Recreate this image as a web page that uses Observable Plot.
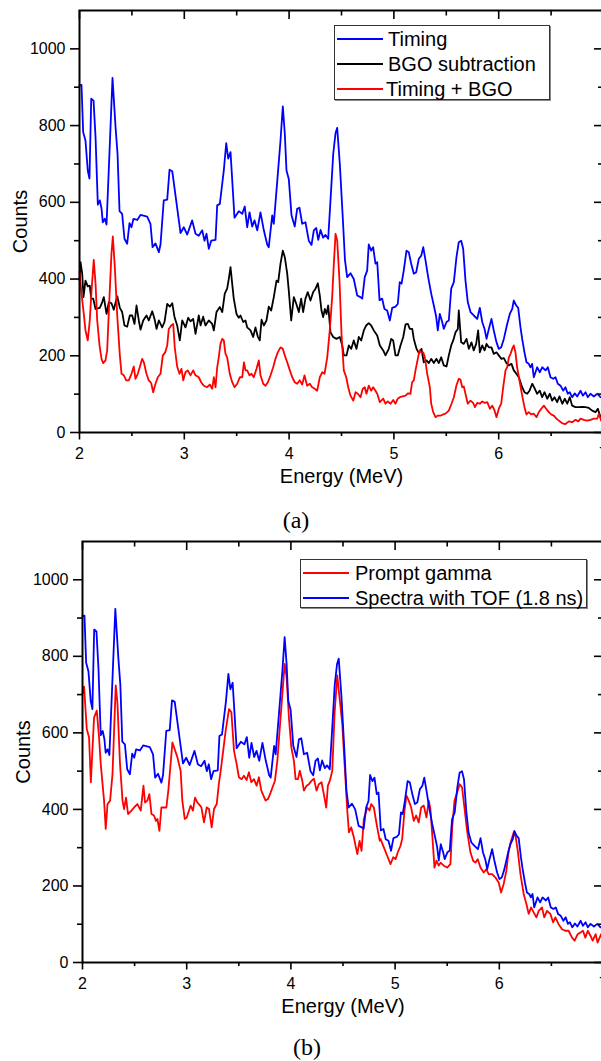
<!DOCTYPE html>
<html><head><meta charset="utf-8">
<script src="https://cdn.jsdelivr.net/npm/d3@7"></script>
<script src="https://cdn.jsdelivr.net/npm/@observablehq/plot@0.6"></script>
<style>
html,body{margin:0;padding:0;background:#fff;overflow:hidden;}
#wrap{position:relative;width:601px;height:1061px;overflow:hidden;font-family:"Liberation Sans",Arial,sans-serif;}
.panel{position:absolute;left:0;max-width:none !important;}
.legend{position:absolute;border:1px solid #333;box-shadow:1px 1px 0 #888;background:#fff;font-size:20px;color:#000;}
.legend .ln{position:absolute;height:0;border-top:2px solid;}
.legend .tx{position:absolute;line-height:20px;white-space:nowrap;}
.cap{position:absolute;font-family:"Liberation Serif","DejaVu Serif",serif;font-size:24px;transform:translate(-50%,-50%);}
</style></head>
<body><div id="wrap"></div>
<script>
// ---- data: [energy (MeV), counts] ----
const timing = [[2.000,905],[2.019,906],[2.035,783],[2.057,761],[2.079,683],[2.095,662],[2.112,870],[2.134,865],[2.153,770],[2.175,594],[2.194,605],[2.210,584],[2.222,548],[2.241,557],[2.258,542],[2.283,709],[2.315,924],[2.344,796],[2.363,726],[2.382,577],[2.407,570],[2.429,505],[2.455,492],[2.477,546],[2.496,535],[2.515,557],[2.551,554],[2.582,567],[2.646,563],[2.677,544],[2.697,483],[2.725,493],[2.757,470],[2.773,490],[2.804,605],[2.837,607],[2.859,685],[2.885,681],[2.916,618],[2.964,520],[2.995,535],[3.028,516],[3.075,553],[3.107,518],[3.138,513],[3.171,527],[3.193,500],[3.212,518],[3.234,479],[3.257,500],[3.298,502],[3.314,592],[3.339,596],[3.377,683],[3.400,754],[3.419,714],[3.441,731],[3.479,560],[3.520,577],[3.553,570],[3.577,589],[3.600,535],[3.622,574],[3.648,537],[3.670,553],[3.696,527],[3.727,574],[3.759,527],[3.791,490],[3.806,483],[3.839,566],[3.854,544],[3.886,652],[3.918,761],[3.940,850],[3.959,779],[3.975,683],[3.997,661],[4.023,566],[4.054,537],[4.077,583],[4.099,586],[4.125,544],[4.156,548],[4.188,500],[4.214,489],[4.236,527],[4.259,533],[4.278,502],[4.300,528],[4.325,508],[4.347,515],[4.373,505],[4.395,605],[4.421,726],[4.443,780],[4.459,794],[4.484,700],[4.512,561],[4.533,450],[4.554,405],[4.586,415],[4.617,400],[4.650,357],[4.681,353],[4.698,349],[4.722,405],[4.745,422],[4.760,490],[4.783,474],[4.802,483],[4.824,440],[4.841,444],[4.863,345],[4.888,349],[4.910,322],[4.936,318],[4.961,292],[4.984,325],[5.015,328],[5.037,335],[5.056,392],[5.073,388],[5.094,422],[5.120,474],[5.142,470],[5.165,440],[5.190,414],[5.213,418],[5.238,453],[5.261,461],[5.280,483],[5.302,448],[5.327,405],[5.356,362],[5.381,331],[5.404,301],[5.419,266],[5.438,309],[5.461,288],[5.476,270],[5.502,288],[5.524,292],[5.547,375],[5.572,392],[5.597,457],[5.619,496],[5.642,500],[5.661,479],[5.683,396],[5.705,340],[5.731,314],[5.762,305],[5.795,296],[5.820,325],[5.843,288],[5.865,270],[5.884,244],[5.906,270],[5.931,296],[5.953,266],[5.979,235],[6.001,218],[6.024,222],[6.049,244],[6.081,283],[6.106,309],[6.129,322],[6.144,344],[6.167,331],[6.186,325],[6.208,274],[6.224,244],[6.246,209],[6.265,183],[6.287,179],[6.303,170],[6.319,179],[6.335,144],[6.367,170],[6.392,157],[6.415,170],[6.447,162],[6.469,170],[6.494,144],[6.520,140],[6.542,144],[6.564,127],[6.590,122],[6.615,109],[6.637,118],[6.659,101],[6.678,105],[6.701,92],[6.726,102],[6.749,94],[6.781,109],[6.803,96],[6.828,105],[6.850,92],[6.876,101],[6.908,94],[6.940,101],[6.971,92]];

const bgoSubtraction = [[2.000,396],[2.010,444],[2.026,414],[2.038,353],[2.057,396],[2.079,381],[2.098,383],[2.112,349],[2.131,349],[2.153,322],[2.194,325],[2.217,340],[2.232,353],[2.258,309],[2.280,340],[2.305,337],[2.327,320],[2.360,355],[2.385,325],[2.407,314],[2.429,279],[2.455,276],[2.480,305],[2.503,305],[2.525,283],[2.544,331],[2.566,292],[2.582,268],[2.608,292],[2.639,305],[2.661,292],[2.694,316],[2.716,296],[2.735,270],[2.757,292],[2.789,274],[2.811,288],[2.837,335],[2.862,328],[2.885,337],[2.906,302],[2.932,279],[2.957,240],[2.980,292],[3.011,274],[3.037,299],[3.059,290],[3.085,296],[3.107,257],[3.138,305],[3.155,279],[3.180,302],[3.202,279],[3.234,292],[3.266,283],[3.282,266],[3.307,314],[3.339,327],[3.362,314],[3.386,362],[3.409,375],[3.425,401],[3.441,431],[3.457,388],[3.472,349],[3.498,309],[3.520,299],[3.536,305],[3.562,288],[3.584,292],[3.600,274],[3.632,266],[3.657,249],[3.679,274],[3.701,250],[3.720,240],[3.737,294],[3.759,279],[3.784,292],[3.806,328],[3.829,318],[3.854,353],[3.880,396],[3.896,392],[3.918,440],[3.940,474],[3.959,457],[3.982,414],[3.997,370],[4.020,292],[4.045,353],[4.069,335],[4.093,314],[4.115,349],[4.134,314],[4.156,349],[4.178,366],[4.204,344],[4.230,366],[4.252,375],[4.274,389],[4.293,357],[4.309,318],[4.325,301],[4.341,322],[4.357,309],[4.373,331],[4.395,261],[4.421,249],[4.452,244],[4.484,249],[4.507,227],[4.522,201],[4.548,201],[4.570,227],[4.593,218],[4.617,240],[4.643,218],[4.665,249],[4.688,240],[4.713,266],[4.736,279],[4.760,285],[4.783,279],[4.808,266],[4.841,253],[4.866,227],[4.898,214],[4.920,201],[4.951,218],[4.974,244],[4.993,240],[5.015,201],[5.037,201],[5.063,227],[5.089,249],[5.111,282],[5.133,283],[5.152,270],[5.175,270],[5.190,244],[5.216,218],[5.238,207],[5.263,218],[5.285,183],[5.311,188],[5.333,181],[5.356,192],[5.381,181],[5.406,192],[5.428,181],[5.451,196],[5.476,175],[5.502,172],[5.524,201],[5.547,227],[5.566,240],[5.588,261],[5.610,270],[5.619,318],[5.642,235],[5.667,231],[5.693,244],[5.715,218],[5.740,235],[5.762,214],[5.785,231],[5.804,266],[5.820,209],[5.843,227],[5.865,214],[5.884,231],[5.906,222],[5.931,222],[5.953,205],[5.979,209],[6.001,201],[6.024,192],[6.049,194],[6.074,181],[6.096,175],[6.122,179],[6.144,162],[6.169,153],[6.192,144],[6.224,118],[6.246,105],[6.272,101],[6.294,109],[6.320,127],[6.345,114],[6.367,101],[6.392,109],[6.415,92],[6.437,105],[6.463,88],[6.488,101],[6.510,83],[6.532,92],[6.558,79],[6.580,94],[6.607,75],[6.631,88],[6.654,75],[6.678,92],[6.701,70],[6.733,66],[6.764,66],[6.797,67],[6.828,66],[6.860,64],[6.892,57],[6.924,53],[6.946,62],[6.971,40]];

const timingBgo = [[2.000,420],[2.016,370],[2.041,309],[2.057,266],[2.079,240],[2.098,292],[2.115,370],[2.136,450],[2.153,388],[2.169,292],[2.191,227],[2.210,192],[2.226,181],[2.248,188],[2.264,214],[2.286,353],[2.305,466],[2.318,511],[2.337,431],[2.360,305],[2.385,201],[2.401,153],[2.423,149],[2.446,136],[2.470,136],[2.496,153],[2.518,172],[2.534,140],[2.556,153],[2.575,170],[2.598,192],[2.614,183],[2.639,153],[2.661,136],[2.684,129],[2.703,105],[2.725,127],[2.747,144],[2.773,153],[2.795,201],[2.818,209],[2.837,227],[2.852,270],[2.875,279],[2.894,283],[2.909,222],[2.932,172],[2.954,153],[2.973,166],[2.990,136],[3.011,157],[3.033,162],[3.059,149],[3.085,162],[3.107,149],[3.138,144],[3.161,131],[3.186,122],[3.218,118],[3.243,125],[3.266,114],[3.282,144],[3.298,118],[3.314,170],[3.329,196],[3.345,231],[3.362,244],[3.377,240],[3.393,205],[3.409,196],[3.434,153],[3.457,131],[3.479,118],[3.505,127],[3.530,144],[3.553,144],[3.569,183],[3.584,162],[3.600,162],[3.622,149],[3.641,153],[3.663,144],[3.689,166],[3.711,188],[3.727,149],[3.753,127],[3.775,122],[3.797,131],[3.823,149],[3.848,170],[3.870,192],[3.892,209],[3.918,222],[3.940,218],[3.959,201],[3.982,183],[4.007,162],[4.030,144],[4.054,131],[4.077,127],[4.102,136],[4.125,125],[4.147,149],[4.172,122],[4.198,127],[4.220,118],[4.245,114],[4.268,109],[4.293,144],[4.316,157],[4.338,153],[4.364,196],[4.388,266],[4.411,353],[4.427,440],[4.443,518],[4.459,500],[4.481,396],[4.500,257],[4.522,162],[4.545,144],[4.564,118],[4.586,96],[4.612,83],[4.634,105],[4.656,101],[4.681,92],[4.703,114],[4.722,118],[4.738,101],[4.760,122],[4.783,109],[4.802,118],[4.824,109],[4.841,101],[4.866,79],[4.898,88],[4.920,75],[4.942,81],[4.968,75],[4.993,85],[5.015,75],[5.037,88],[5.056,92],[5.111,96],[5.133,102],[5.158,101],[5.174,131],[5.190,136],[5.206,162],[5.228,192],[5.244,214],[5.260,209],[5.280,209],[5.295,196],[5.318,153],[5.343,118],[5.356,75],[5.375,53],[5.397,40],[5.419,44],[5.445,44],[5.470,47],[5.492,49],[5.524,57],[5.550,75],[5.572,92],[5.597,123],[5.619,140],[5.635,138],[5.652,118],[5.667,120],[5.683,101],[5.705,75],[5.731,83],[5.757,77],[5.773,66],[5.795,77],[5.820,75],[5.843,81],[5.868,77],[5.891,79],[5.916,62],[5.939,70],[5.961,57],[5.979,40],[6.001,62],[6.024,75],[6.043,118],[6.065,162],[6.081,170],[6.097,196],[6.113,205],[6.129,218],[6.144,227],[6.160,209],[6.176,170],[6.201,131],[6.224,96],[6.246,66],[6.265,47],[6.287,53],[6.310,47],[6.335,49],[6.361,40],[6.383,53],[6.406,62],[6.431,70],[6.453,62],[6.478,53],[6.501,47],[6.526,44],[6.551,36],[6.574,31],[6.607,24],[6.637,22],[6.669,29],[6.701,27],[6.733,33],[6.759,29],[6.781,36],[6.812,33],[6.844,31],[6.876,33],[6.908,36],[6.940,36],[6.956,49],[6.978,31]];

const promptGamma = [[2.000,702],[2.015,721],[2.041,610],[2.063,588],[2.080,471],[2.111,640],[2.137,658],[2.159,588],[2.175,519],[2.207,423],[2.223,349],[2.240,414],[2.265,423],[2.288,493],[2.319,724],[2.335,680],[2.360,519],[2.384,423],[2.399,401],[2.418,431],[2.437,388],[2.470,397],[2.495,405],[2.527,414],[2.559,397],[2.585,462],[2.600,418],[2.623,423],[2.642,440],[2.662,388],[2.686,384],[2.705,370],[2.719,375],[2.738,344],[2.757,405],[2.782,405],[2.805,405],[2.825,453],[2.863,575],[2.911,536],[2.942,500],[2.958,423],[2.981,375],[3.000,379],[3.022,397],[3.038,410],[3.060,397],[3.080,431],[3.103,418],[3.128,410],[3.141,405],[3.166,366],[3.192,405],[3.214,401],[3.240,353],[3.262,401],[3.288,414],[3.310,470],[3.326,500],[3.374,606],[3.406,662],[3.429,654],[3.454,553],[3.479,519],[3.501,484],[3.527,479],[3.549,488],[3.575,477],[3.597,497],[3.620,471],[3.645,479],[3.671,462],[3.693,484],[3.716,449],[3.757,423],[3.780,427],[3.805,444],[3.847,475],[3.870,527],[3.901,640],[3.940,780],[3.959,745],[3.981,640],[4.004,562],[4.029,527],[4.045,479],[4.067,479],[4.086,501],[4.109,475],[4.125,449],[4.151,462],[4.173,466],[4.198,475],[4.221,480],[4.246,449],[4.268,466],[4.294,471],[4.316,440],[4.339,405],[4.355,462],[4.374,475],[4.397,501],[4.419,650],[4.445,750],[4.460,710],[4.493,623],[4.515,519],[4.541,397],[4.557,340],[4.579,353],[4.604,327],[4.637,283],[4.659,318],[4.678,292],[4.700,375],[4.733,405],[4.755,397],[4.771,414],[4.796,405],[4.828,353],[4.853,318],[4.860,323],[4.892,301],[4.924,279],[4.956,257],[4.982,275],[5.004,270],[5.026,288],[5.052,305],[5.068,323],[5.090,397],[5.109,436],[5.131,423],[5.154,405],[5.179,370],[5.202,384],[5.227,366],[5.250,405],[5.275,410],[5.301,379],[5.323,423],[5.339,401],[5.356,336],[5.378,248],[5.397,266],[5.419,253],[5.436,261],[5.467,253],[5.500,248],[5.531,257],[5.548,353],[5.570,423],[5.595,444],[5.620,466],[5.643,457],[5.665,405],[5.691,344],[5.723,288],[5.749,266],[5.771,261],[5.793,270],[5.819,248],[5.850,235],[5.876,244],[5.898,231],[5.931,231],[5.963,222],[5.994,209],[6.017,183],[6.042,205],[6.068,240],[6.090,292],[6.113,318],[6.139,340],[6.158,327],[6.177,292],[6.203,231],[6.234,179],[6.260,153],[6.282,127],[6.305,144],[6.330,131],[6.356,118],[6.378,135],[6.410,144],[6.431,118],[6.458,135],[6.490,127],[6.516,105],[6.538,118],[6.569,100],[6.602,87],[6.633,83],[6.665,83],[6.698,65],[6.723,57],[6.752,74],[6.778,78],[6.803,83],[6.826,65],[6.849,83],[6.875,70],[6.896,57],[6.925,74],[6.943,52],[6.977,74]];

// the TOF (1.8 ns) spectrum is the same "Timing" spectrum
const spectraTof = timing;

const xMajorTicks = [2, 3, 4, 5, 6, 7];
const xMinorTicks = [2.5, 3.5, 4.5, 5.5, 6.5];
const yMajorTicks = [0, 200, 400, 600, 800, 1000];
const yMinorTicks = [100, 300, 500, 700, 900];
const xDomain = [2, 7];
const yDomain = [0, 1100];

const panelA = {top: 0, marginLeft: 79, height: 492,
  series: [{data: timing, color: "#0000ff", name: "Timing"},
           {data: bgoSubtraction, color: "#000000", name: "BGO subtraction"},
           {data: timingBgo, color: "#ff0000", name: "Timing + BGO"}]};
const panelB = {top: 531, marginLeft: 82, height: 491,
  series: [{data: promptGamma, color: "#ff0000", name: "Prompt gamma"},
           {data: spectraTof, color: "#0000ff", name: "Spectra with TOF (1.8 ns)"}]};

function makePanel(p) {
  const width = 604, marginTop = 10, marginBottom = 60, marginRight = 1;
  const frameH = p.height - marginTop - marginBottom;
  const frameW = width - p.marginLeft - marginRight;
  const fmt = d3.format("d");
  const marks = [];
  for (const s of p.series) {
    marks.push(Plot.line(s.data, {x: d => d[0], y: d => d[1], stroke: s.color, strokeWidth: 1.8}));
  }
  marks.push(
    Plot.axisX({ticks: xMajorTicks, tickSize: 7.5, tickPadding: 8, tickFormat: fmt, label: null, strokeWidth: 1.6}),
    Plot.axisX({ticks: xMinorTicks, tickSize: 4, tickFormat: () => "", label: null, strokeWidth: 1.6}),
    Plot.axisY({ticks: yMajorTicks, tickSize: 9, tickPadding: 5, tickFormat: fmt, label: null, strokeWidth: 1.6}),
    Plot.axisY({ticks: yMinorTicks, tickSize: 5, tickFormat: () => "", label: null, strokeWidth: 1.6}),
    Plot.ruleX(xMajorTicks, {x: d => d, insetBottom: frameH - 9, strokeWidth: 1.6}),
    Plot.ruleX(xMinorTicks, {x: d => d, insetBottom: frameH - 5.5, strokeWidth: 1.6}),
    Plot.ruleY(yMajorTicks, {y: d => d, insetLeft: frameW - 9, strokeWidth: 1.6}),
    Plot.ruleY(yMinorTicks, {y: d => d, insetLeft: frameW - 5, strokeWidth: 1.6}),
    Plot.frame({stroke: "black", strokeWidth: 2}),
    Plot.text(["Energy (MeV)"], {text: d => d, frameAnchor: "bottom", lineAnchor: "middle", textAnchor: "middle", dy: 44, fontSize: 20}),
    Plot.text(["Counts"], {text: d => d, frameAnchor: "left", lineAnchor: "middle", textAnchor: "middle", dx: -59, rotate: -90, fontSize: 20})
  );
  const svg = Plot.plot({
    width, height: p.height, marginTop, marginBottom, marginLeft: p.marginLeft, marginRight,
    x: {domain: xDomain},
    y: {domain: yDomain},
    style: {fontFamily: "'Liberation Sans', Arial, sans-serif", fontSize: "16px", color: "black", background: "transparent", overflow: "visible", maxWidth: "none"},
    marks
  });
  svg.classList.add("panel");
  svg.style.top = p.top + "px";
  svg.style.maxWidth = "none";
  return svg;
}

function makeLegend(series, box) {
  const div = document.createElement("div");
  div.className = "legend";
  Object.assign(div.style, {left: box.left + "px", top: box.top + "px", width: box.width + "px", height: box.height + "px"});
  series.forEach((s, i) => {
    const cy = box.firstRow + i * 25;
    const ln = document.createElement("div");
    ln.className = "ln";
    Object.assign(ln.style, {left: "2px", width: "46px", top: (cy - 1) + "px", borderTopColor: s.color});
    const tx = document.createElement("div");
    tx.className = "tx";
    tx.textContent = s.name;
    Object.assign(tx.style, {left: (box.textLeft[i] ?? box.textLeft[0]) + "px", top: (cy - 10) + "px"});
    div.append(ln, tx);
  });
  return div;
}

function caption(text, x, y) {
  const d = document.createElement("div");
  d.className = "cap";
  d.textContent = text;
  d.style.left = x + "px";
  d.style.top = y + "px";
  return d;
}

const wrap = document.getElementById("wrap");
wrap.append(makePanel(panelA));
wrap.append(makePanel(panelB));
wrap.append(makeLegend(panelA.series, {left: 334, top: 25, width: 214, height: 73, firstRow: 12.5, textLeft: [53, 53, 51]}));
wrap.append(makeLegend(panelB.series, {left: 300, top: 559, width: 285, height: 47, firstRow: 12.5, textLeft: [54]}));
wrap.append(caption("(a)", 296, 520));
wrap.append(caption("(b)", 307, 1047));
</script>
</body></html>
